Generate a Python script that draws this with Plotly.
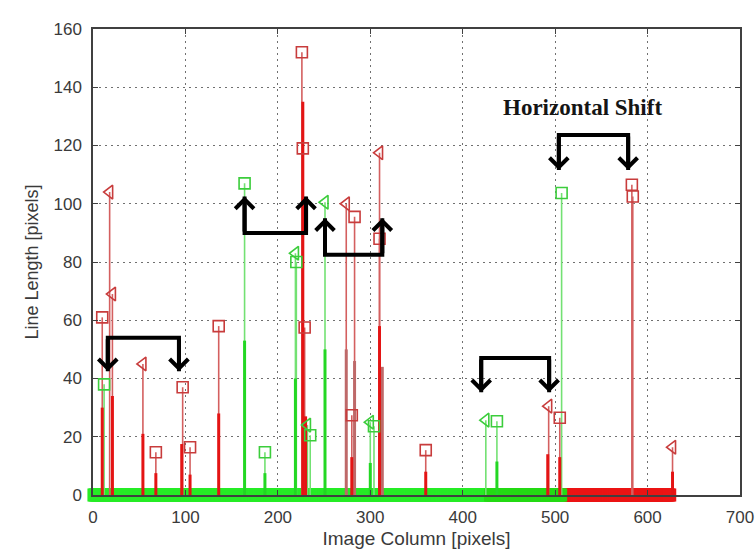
import plotly.graph_objects as go

# ---- stems that end in a marker (image column, line length) ----
red_sq_x = [10, 68, 97, 105, 136, 226, 227, 229, 280, 283, 310, 360, 505, 583, 584]
red_sq_y = [61, 14.7, 37, 16.4, 58, 152, 119, 57.5, 27.4, 95.5, 88, 15.4, 26.5, 106.5, 102.5]
red_tri_x = [18, 21, 54, 274, 310, 493, 627]
red_tri_y = [104, 69, 45, 100, 117.5, 30.5, 16.4]
green_sq_x = [12, 164, 186, 220, 235, 304, 437, 507]
green_sq_y = [38, 107, 14.7, 80, 20.5, 23.6, 25.3, 103.7]
green_tri_x = [219, 232, 251, 300, 425]
green_tri_y = [83, 24, 100.5, 25, 25.7]

# ---- overlapping short stems (drawn heavier, no marker) ----
red_dense_x = [10, 21, 54, 68, 96, 105, 136, 227, 230, 280, 310, 360, 492, 505, 627]
red_dense_y = [30, 34, 21, 7.5, 17.5, 7, 28, 135, 27, 13, 58, 8, 14, 13, 8]
red_dim_x = [274, 283, 313]
red_dim_y = [50, 46, 44]
green_dense_x = [164, 186, 219, 251, 300, 437]
green_dense_y = [53, 7.5, 40, 50, 11, 11.5]

# ---- zero-length stems along the baseline ----
green_zero_cols = list(range(1, 507))
red_zero_cols = list(range(430, 625))

# ---- shift brackets: left col, right col, bar level, arrow tip level ----
br_left = [16, 164, 251, 420, 504]
br_right = [93, 230.5, 313, 493.5, 579]
br_bar = [54, 90, 82.5, 47, 123.6]
br_tip = [42.5, 102.5, 95, 35.3, 111.6]

label_text = "Horizontal Shift"
label_x, label_y = 530, 133

RED_MK = "rgb(200,60,60)"
RED_THIN = "rgb(212,95,95)"
RED_THICK = "rgb(228,20,20)"
RED_DIM = "rgb(190,105,105)"
GRN_MK = "rgb(60,205,60)"
GRN_THIN = "rgb(115,225,115)"
GRN_THICK = "rgb(35,215,35)"


def stems(xs, ys):
    sx, sy = [], []
    for x, y in zip(xs, ys):
        sx += [x, x, None]
        sy += [0, y, None]
    return sx, sy


fig = go.Figure()

# baseline markers (red under green)
fig.add_trace(go.Scatter(x=red_zero_cols, y=[0] * len(red_zero_cols), mode="markers",
                         marker=dict(symbol="square", size=13, color="rgb(235,20,20)",
                                     line=dict(width=0)),
                         cliponaxis=False, hoverinfo="skip"))
fig.add_trace(go.Scatter(x=green_zero_cols, y=[0] * len(green_zero_cols), mode="markers",
                         marker=dict(symbol="square", size=13, color="rgb(20,235,20)",
                                     line=dict(width=0)),
                         opacity=0.92, cliponaxis=False, hoverinfo="skip"))

# thin stems
for xs, ys, col in [(green_sq_x + green_tri_x, green_sq_y + green_tri_y, GRN_THIN),
                    (red_sq_x + red_tri_x, red_sq_y + red_tri_y, RED_THIN)]:
    sx, sy = stems(xs, ys)
    fig.add_trace(go.Scatter(x=sx, y=sy, mode="lines", line=dict(color=col, width=1.6),
                             hoverinfo="skip"))

# heavy overlapping stems
for xs, ys, col in [(green_dense_x, green_dense_y, GRN_THICK),
                    (red_dim_x, red_dim_y, RED_DIM),
                    (red_dense_x, red_dense_y, RED_THICK)]:
    sx, sy = stems(xs, ys)
    fig.add_trace(go.Scatter(x=sx, y=sy, mode="lines", line=dict(color=col, width=3),
                             hoverinfo="skip"))

# stem markers
for xs, ys, sym, col, sz in [(green_sq_x, green_sq_y, "square-open", GRN_MK, 11),
                             (green_tri_x, green_tri_y, "triangle-left-open", GRN_MK, 12),
                             (red_sq_x, red_sq_y, "square-open", RED_MK, 11),
                             (red_tri_x, red_tri_y, "triangle-left-open", RED_MK, 12)]:
    fig.add_trace(go.Scatter(x=xs, y=ys, mode="markers",
                             marker=dict(symbol=sym, size=sz, color=col,
                                         line=dict(color=col, width=1.6)),
                             hoverinfo="skip"))

# brackets
annotations = []
for xl, xr, yb, yt in zip(br_left, br_right, br_bar, br_tip):
    fig.add_trace(go.Scatter(x=[xl, xl, xr, xr], y=[yt, yb, yb, yt], mode="lines",
                             line=dict(color="black", width=4), hoverinfo="skip"))
    for xa in (xl, xr):
        annotations.append(dict(x=xa, y=yt, ax=xa, ay=yb, xref="x", yref="y",
                                axref="x", ayref="y", text="", showarrow=True,
                                arrowhead=4, arrowsize=0.9, arrowwidth=4,
                                arrowcolor="black", standoff=0))

annotations.append(dict(x=label_x, y=label_y, xref="x", yref="y", text=label_text,
                        showarrow=False,
                        font=dict(family="Liberation Serif, Times New Roman, serif",
                                  size=23, color="#151515", weight="bold")))

axis_common = dict(showline=True, linecolor="#404040", linewidth=1.5, mirror="ticks",
                   ticks="inside", ticklen=5, tickcolor="#404040", tickwidth=1.2,
                   showgrid=True, gridcolor="#707070", gridwidth=1.3, griddash="2px,4px",
                   zeroline=False, automargin=False,
                   tickfont=dict(family="Liberation Sans, Arial, sans-serif", size=17,
                                 color="#3a3a3a"),
                   layer="above traces")

fig.update_xaxes(range=[0, 700], tickvals=[0, 100, 200, 300, 400, 500, 600, 700],
                 title=dict(text="Image Column [pixels]", standoff=6,
                            font=dict(family="Liberation Sans, Arial, sans-serif",
                                      size=19, color="#3a3a3a")),
                 ticklabelstandoff=6, **axis_common)
fig.update_yaxes(range=[0, 160], tickvals=[0, 20, 40, 60, 80, 100, 120, 140, 160],
                 title=dict(text="Line Length [pixels]", standoff=10,
                            font=dict(family="Liberation Sans, Arial, sans-serif",
                                      size=18, color="#3a3a3a")),
                 ticklabelstandoff=6, **axis_common)

fig.update_layout(width=755, height=550, showlegend=False,
                  margin=dict(l=93, r=15, t=29, b=55),
                  paper_bgcolor="white", plot_bgcolor="white",
                  annotations=annotations)

fig.write_html("out.html")
